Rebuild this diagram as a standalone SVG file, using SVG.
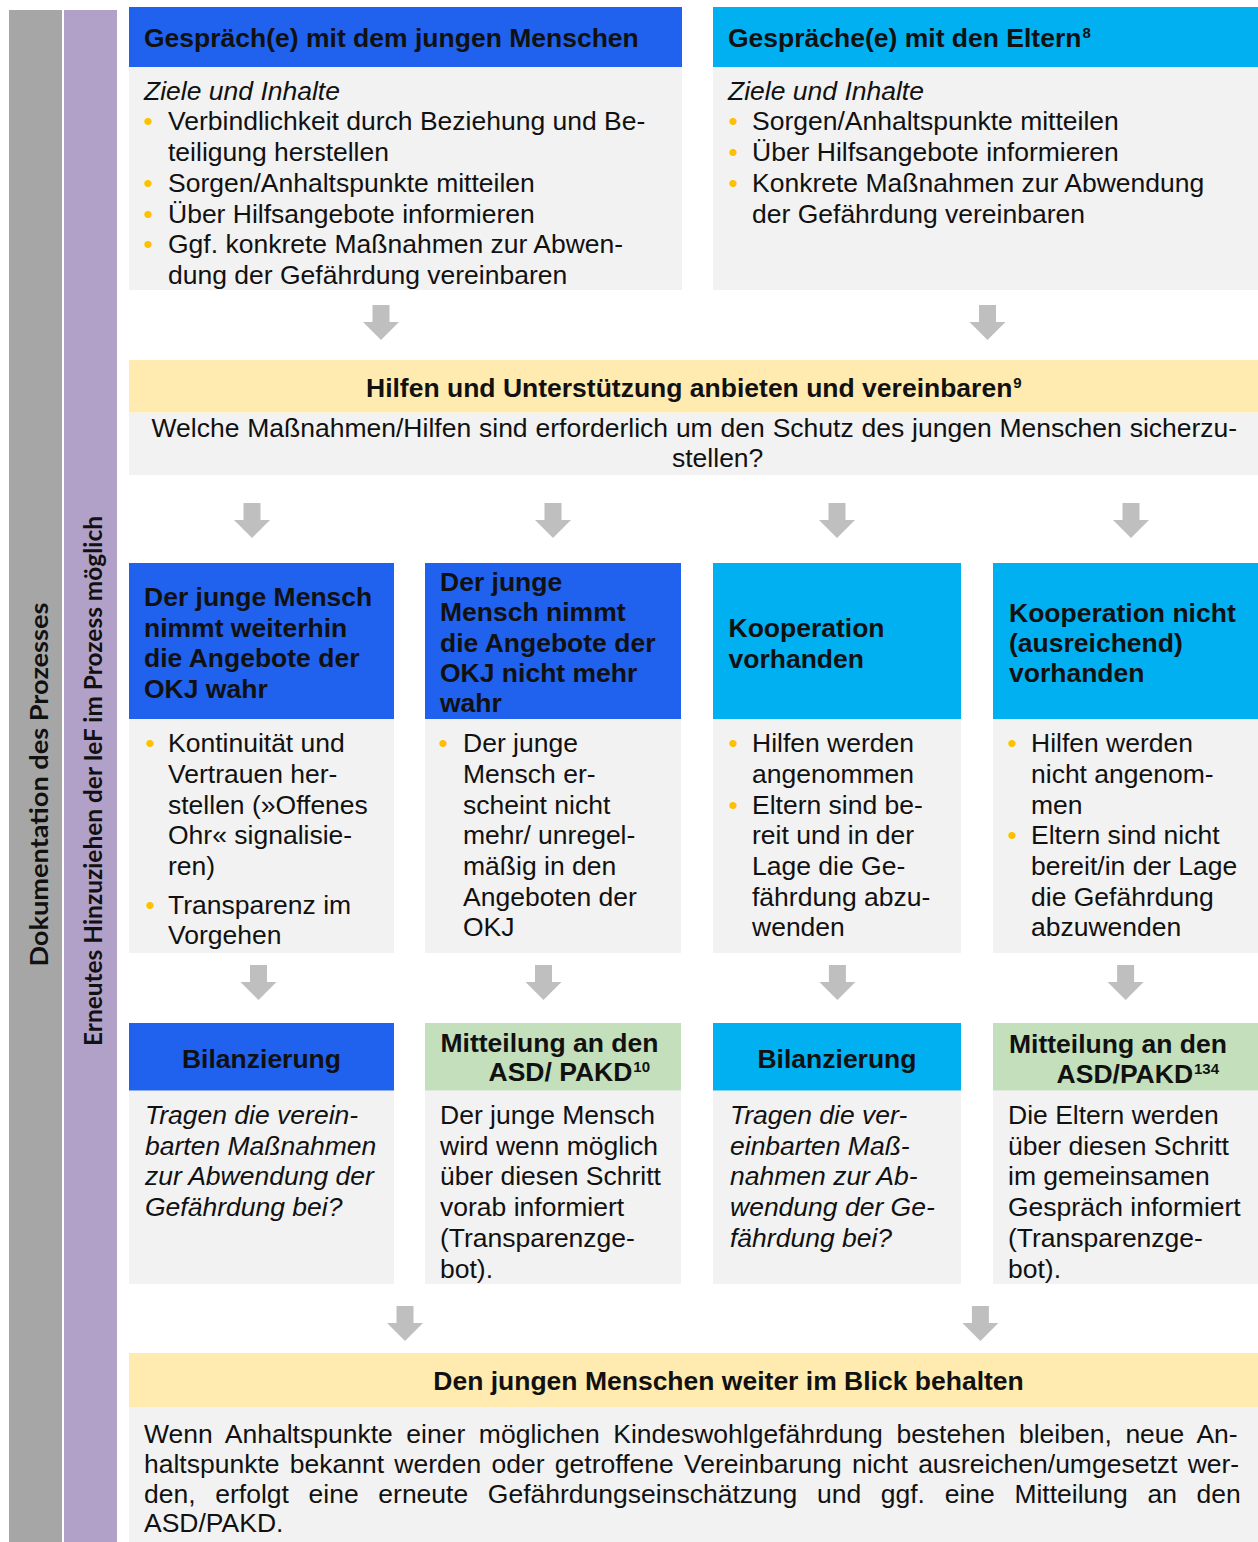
<svg xmlns="http://www.w3.org/2000/svg" width="1258" height="1542" viewBox="0 0 1258 1542">
<style>
  text { font-family: "Liberation Sans", Arial, sans-serif; font-size: 26.5px; fill: #111; }
  .b { font-weight: bold; }
  .i { font-style: italic; }
  .bu { fill: #FFC000; }
  .sup { font-size: 15px; }
  .side { font-family: Lato, "Open Sans", sans-serif; font-weight: bold; font-size: 25px; fill: #111; }
  .blue { fill: #2062ED; }
  .cyan { fill: #00B0F0; }
  .green { fill: #C3DFBB; }
  .yel { fill: #FFEBB0; }
  .body { fill: #F2F2F2; }
  .arr { fill: #BFBFBF; }
</style>
<defs>
  <path id="arrow" d="M-8.5,0 H8.5 V17 H18 L0,35 L-18,17 H-8.5 Z"/>
</defs>
<rect width="1258" height="1542" fill="#fff"/>

<g id="side-doku">
  <rect x="9" y="10" width="53" height="1532" fill="#A6A6A6"/>
  <text class="side" transform="translate(48,784.6) rotate(-90)" text-anchor="middle" textLength="364" lengthAdjust="spacingAndGlyphs">Dokumentation des Prozesses</text>
</g>
<g id="side-ief">
  <rect x="64" y="10" width="53" height="1532" fill="#B1A0C7"/>
  <text class="side" transform="translate(102,781) rotate(-90)" text-anchor="middle" textLength="530" lengthAdjust="spacingAndGlyphs">Erneutes Hinzuziehen der IeF im Prozess möglich</text>
</g>

<g id="gespraech-jung">
  <rect x="129" y="7" width="553" height="60" class="blue"/>
  <rect x="129" y="67" width="553" height="223" class="body"/>
  <text class="b" x="144" y="46.7">Gespräch(e) mit dem jungen Menschen</text>
  <text class="i" x="144" y="100">Ziele und Inhalte</text>
  <text class="bu" x="143.4" y="130">•</text>
  <text x="168" y="130">Verbindlichkeit durch Beziehung und Be-</text>
  <text x="168" y="161">teiligung herstellen</text>
  <text class="bu" x="143.4" y="192">•</text>
  <text x="168" y="192">Sorgen/Anhaltspunkte mitteilen</text>
  <text class="bu" x="143.4" y="223">•</text>
  <text x="168" y="223">Über Hilfsangebote informieren</text>
  <text class="bu" x="143.4" y="253">•</text>
  <text x="168" y="253">Ggf. konkrete Maßnahmen zur Abwen-</text>
  <text x="168" y="284">dung der Gefährdung vereinbaren</text>
</g>

<g id="gespraech-eltern">
  <rect x="713" y="7" width="545" height="60" class="cyan"/>
  <rect x="713" y="67" width="545" height="223" class="body"/>
  <text class="b" x="728" y="46.7">Gespräche(e) mit den Eltern<tspan class="sup" dx="1" dy="-9">8</tspan></text>
  <text class="i" x="728" y="100">Ziele und Inhalte</text>
  <text class="bu" x="728.4" y="130">•</text>
  <text x="752" y="130">Sorgen/Anhaltspunkte mitteilen</text>
  <text class="bu" x="728.4" y="161">•</text>
  <text x="752" y="161">Über Hilfsangebote informieren</text>
  <text class="bu" x="728.4" y="192">•</text>
  <text x="752" y="192">Konkrete Maßnahmen zur Abwendung</text>
  <text x="752" y="223">der Gefährdung vereinbaren</text>
</g>

<g id="hilfen">
  <rect x="129" y="360" width="1129" height="52.7" class="yel"/>
  <rect x="129" y="412.7" width="1129" height="62.3" class="body"/>
  <text class="b" x="366" y="397.3">Hilfen und Unterstützung anbieten und vereinbaren<tspan class="sup" dx="1" dy="-9">9</tspan></text>
  <text x="151.5" y="437" style="word-spacing:0.5px">Welche Maßnahmen/Hilfen sind erforderlich um den Schutz des jungen Menschen sicherzu-</text>
  <text x="672" y="467">stellen?</text>
</g>

<g id="col1-wahr">
  <rect x="129" y="563" width="265" height="156" class="blue"/>
  <rect x="129" y="719" width="265" height="234" class="body"/>
  <text class="b" x="144" y="605.5">Der junge Mensch</text>
  <text class="b" x="144" y="636.5">nimmt weiterhin</text>
  <text class="b" x="144" y="667">die Angebote der</text>
  <text class="b" x="144" y="697.7">OKJ wahr</text>
  <text class="bu" x="145.4" y="752">•</text>
  <text x="168" y="752">Kontinuität und</text>
  <text x="168" y="783">Vertrauen her-</text>
  <text x="168" y="814">stellen (»Offenes</text>
  <text x="168" y="844">Ohr« signalisie-</text>
  <text x="168" y="875">ren)</text>
  <text class="bu" x="145.4" y="914">•</text>
  <text x="168" y="914">Transparenz im</text>
  <text x="168" y="944">Vorgehen</text>
</g>

<g id="col2-nicht-wahr">
  <rect x="425" y="563" width="256" height="156" class="blue"/>
  <rect x="425" y="719" width="256" height="234" class="body"/>
  <text class="b" x="440" y="590.5">Der junge</text>
  <text class="b" x="440" y="621">Mensch nimmt</text>
  <text class="b" x="440" y="651.7">die Angebote der</text>
  <text class="b" x="440" y="682">OKJ nicht mehr</text>
  <text class="b" x="440" y="712">wahr</text>
  <text class="bu" x="438.4" y="752">•</text>
  <text x="463" y="752">Der junge</text>
  <text x="463" y="783">Mensch er-</text>
  <text x="463" y="814">scheint nicht</text>
  <text x="463" y="844">mehr/ unregel-</text>
  <text x="463" y="875">mäßig in den</text>
  <text x="463" y="906">Angeboten der</text>
  <text x="463" y="936">OKJ</text>
</g>

<g id="col3-koop">
  <rect x="713" y="563" width="248" height="156" class="cyan"/>
  <rect x="713" y="719" width="248" height="234" class="body"/>
  <text class="b" x="728.5" y="637">Kooperation</text>
  <text class="b" x="728.5" y="667.5">vorhanden</text>
  <text class="bu" x="728.4" y="752">•</text>
  <text x="752" y="752">Hilfen werden</text>
  <text x="752" y="783">angenommen</text>
  <text class="bu" x="728.4" y="814">•</text>
  <text x="752" y="814">Eltern sind be-</text>
  <text x="752" y="844">reit und in der</text>
  <text x="752" y="875">Lage die Ge-</text>
  <text x="752" y="906">fährdung abzu-</text>
  <text x="752" y="936">wenden</text>
</g>

<g id="col4-keine-koop">
  <rect x="993" y="563" width="265" height="156" class="cyan"/>
  <rect x="993" y="719" width="265" height="234" class="body"/>
  <text class="b" x="1009" y="621.5">Kooperation nicht</text>
  <text class="b" x="1009" y="652">(ausreichend)</text>
  <text class="b" x="1009" y="682">vorhanden</text>
  <text class="bu" x="1007.4" y="752">•</text>
  <text x="1031" y="752">Hilfen werden</text>
  <text x="1031" y="783">nicht angenom-</text>
  <text x="1031" y="814">men</text>
  <text class="bu" x="1007.4" y="844">•</text>
  <text x="1031" y="844">Eltern sind nicht</text>
  <text x="1031" y="875">bereit/in der Lage</text>
  <text x="1031" y="906">die Gefährdung</text>
  <text x="1031" y="936">abzuwenden</text>
</g>

<g id="bilanz1">
  <rect x="129" y="1023" width="265" height="67.7" class="blue"/>
  <rect x="129" y="1090.7" width="265" height="193.3" class="body"/>
  <text class="b" x="261.5" y="1067.5" text-anchor="middle">Bilanzierung</text>
  <text class="i" x="145" y="1124">Tragen die verein-</text>
  <text class="i" x="145" y="1155">barten Maßnahmen</text>
  <text class="i" x="145" y="1185">zur Abwendung der</text>
  <text class="i" x="145" y="1216">Gefährdung bei?</text>
</g>

<g id="mitteilung1">
  <rect x="425" y="1023" width="256" height="67.7" class="green"/>
  <rect x="425" y="1090.7" width="256" height="193.3" class="body"/>
  <text class="b" x="440.5" y="1051.7">Mitteilung an den</text>
  <text class="b" x="488.5" y="1080.7">ASD/ PAKD<tspan class="sup" dx="1" dy="-9">10</tspan></text>
  <text x="440" y="1124">Der junge Mensch</text>
  <text x="440" y="1155">wird wenn möglich</text>
  <text x="440" y="1185">über diesen Schritt</text>
  <text x="440" y="1216">vorab informiert</text>
  <text x="440" y="1247">(Transparenzge-</text>
  <text x="440" y="1278">bot).</text>
</g>

<g id="bilanz2">
  <rect x="713" y="1023" width="248" height="67.7" class="cyan"/>
  <rect x="713" y="1090.7" width="248" height="193.3" class="body"/>
  <text class="b" x="837" y="1067.5" text-anchor="middle">Bilanzierung</text>
  <text class="i" x="730" y="1124">Tragen die ver-</text>
  <text class="i" x="730" y="1155">einbarten Maß-</text>
  <text class="i" x="730" y="1185">nahmen zur Ab-</text>
  <text class="i" x="730" y="1216">wendung der Ge-</text>
  <text class="i" x="730" y="1247">fährdung bei?</text>
</g>

<g id="mitteilung2">
  <rect x="993" y="1023" width="265" height="67.7" class="green"/>
  <rect x="993" y="1090.7" width="265" height="193.3" class="body"/>
  <text class="b" x="1009" y="1052.7">Mitteilung an den</text>
  <text class="b" x="1056.6" y="1082.7">ASD/PAKD<tspan class="sup" dx="1" dy="-9">134</tspan></text>
  <text x="1008" y="1124">Die Eltern werden</text>
  <text x="1008" y="1155">über diesen Schritt</text>
  <text x="1008" y="1185">im gemeinsamen</text>
  <text x="1008" y="1216">Gespräch informiert</text>
  <text x="1008" y="1247">(Transparenzge-</text>
  <text x="1008" y="1278">bot).</text>
</g>

<g id="im-blick">
  <rect x="129" y="1353" width="1129" height="54" class="yel"/>
  <rect x="129" y="1407" width="1129" height="135" class="body"/>
  <text class="b" x="728.5" y="1390" text-anchor="middle">Den jungen Menschen weiter im Blick behalten</text>
  <text x="144" y="1443" style="word-spacing:6.2px">Wenn Anhaltspunkte einer möglichen Kindeswohlgefährdung bestehen bleiben, neue An-</text>
  <text x="144" y="1473" style="word-spacing:2.9px">haltspunkte bekannt werden oder getroffene Vereinbarung nicht ausreichen/umgesetzt wer-</text>
  <text x="144" y="1503" style="word-spacing:12.3px">den, erfolgt eine erneute Gefährdungseinschätzung und ggf. eine Mitteilung an den</text>
  <text x="144" y="1532">ASD/PAKD.</text>
</g>

<g id="connectors" class="arr">
  <use href="#arrow" x="381" y="305"/>
  <use href="#arrow" x="987.5" y="305"/>
  <use href="#arrow" x="252" y="503"/>
  <use href="#arrow" x="553" y="503"/>
  <use href="#arrow" x="837" y="503"/>
  <use href="#arrow" x="1131" y="503"/>
  <use href="#arrow" x="258.5" y="965"/>
  <use href="#arrow" x="543.5" y="965"/>
  <use href="#arrow" x="837.4" y="965"/>
  <use href="#arrow" x="1125.6" y="965"/>
  <use href="#arrow" x="405" y="1306"/>
  <use href="#arrow" x="980.4" y="1306"/>
</g>
</svg>
